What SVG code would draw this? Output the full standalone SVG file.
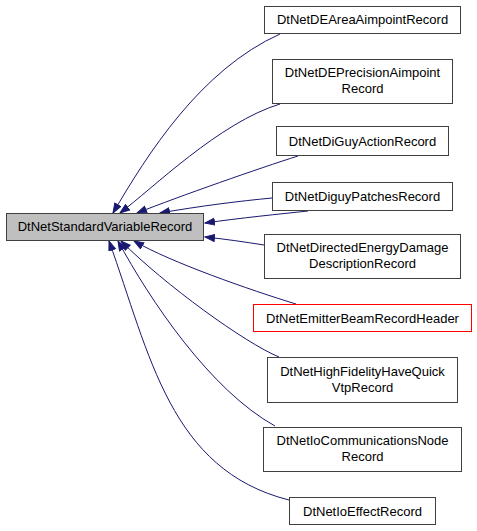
<svg xmlns="http://www.w3.org/2000/svg" width="477" height="531" viewBox="0 0 477 531">
<style>
  .box rect { fill: #ffffff; stroke: #404040; stroke-width: 1; }
  .box.main rect { fill: #bfbfbf; }
  .box.red rect { stroke: #ff0000; }
  .box text { font-family: "Liberation Sans", Arial, sans-serif; font-size: 13px; fill: #000000; text-anchor: middle; }
  .edges path { fill: none; stroke: #191970; stroke-width: 1; marker-end: url(#ah); }
</style>
<defs>
  <marker id="ah" markerWidth="12" markerHeight="9" refX="10" refY="4" orient="auto" markerUnits="userSpaceOnUse">
    <path d="M0.5,0.5 L10,4 L0.5,7.5 z" fill="#191970" stroke="#191970" stroke-width="1"/>
  </marker>
</defs>
<rect width="477" height="531" fill="#ffffff"/>
<g class="edges" id="edges">
  <path d="M280,34 C200,70 147,155 113,213"/>
  <path d="M280,104 C220,122 152,189 120,213"/>
  <path d="M298,156 C260,168 180,196 137,213"/>
  <path d="M272,198 C240,201 200,206 160,213"/>
  <path d="M308,211 C280,214 240,218 205,223"/>
  <path d="M264,245 C245,242 225,239 205,237"/>
  <path d="M296,304 C250,290 170,262 134,241"/>
  <path d="M279,357 C245,343 165,285 121,241"/>
  <path d="M275,426 C210,390 150,300 118,241"/>
  <path d="M289,500 C170,470 150,355 109,241"/>
</g>
<g class="box main" id="node-DtNetStandardVariableRecord">
  <rect x="6.5" y="213.5" width="197" height="27"/>
  <text x="105" y="231">DtNetStandardVariableRecord</text>
</g>
<g class="box" id="node-DtNetDEAreaAimpointRecord">
  <rect x="264.5" y="6.5" width="196" height="27"/>
  <text x="362.5" y="24">DtNetDEAreaAimpointRecord</text>
</g>
<g class="box" id="node-DtNetDEPrecisionAimpointRecord">
  <rect x="272.5" y="59.5" width="180" height="44"/>
  <text x="362.5" y="77">DtNetDEPrecisionAimpoint</text>
  <text x="362.5" y="93">Record</text>
</g>
<g class="box" id="node-DtNetDiGuyActionRecord">
  <rect x="276.5" y="126.5" width="172" height="29"/>
  <text x="362.5" y="146">DtNetDiGuyActionRecord</text>
</g>
<g class="box" id="node-DtNetDiguyPatchesRecord">
  <rect x="272.5" y="182.5" width="180" height="28"/>
  <text x="362.5" y="201">DtNetDiguyPatchesRecord</text>
</g>
<g class="box" id="node-DtNetDirectedEnergyDamageDescriptionRecord">
  <rect x="264.5" y="234.5" width="196" height="44"/>
  <text x="362.5" y="252">DtNetDirectedEnergyDamage</text>
  <text x="362.5" y="268">DescriptionRecord</text>
</g>
<g class="box red" id="node-DtNetEmitterBeamRecordHeader">
  <rect x="253.5" y="304.5" width="218" height="27"/>
  <text x="362.5" y="322.5">DtNetEmitterBeamRecordHeader</text>
</g>
<g class="box" id="node-DtNetHighFidelityHaveQuickVtpRecord">
  <rect x="267.5" y="357.5" width="190" height="45"/>
  <text x="362.5" y="375.5">DtNetHighFidelityHaveQuick</text>
  <text x="362.5" y="391.5">VtpRecord</text>
</g>
<g class="box" id="node-DtNetIoCommunicationsNodeRecord">
  <rect x="263.5" y="427.5" width="198" height="44"/>
  <text x="362.5" y="445">DtNetIoCommunicationsNode</text>
  <text x="362.5" y="461">Record</text>
</g>
<g class="box" id="node-DtNetIoEffectRecord">
  <rect x="289.5" y="497.5" width="146" height="27"/>
  <text x="362.5" y="515.5">DtNetIoEffectRecord</text>
</g>
</svg>
